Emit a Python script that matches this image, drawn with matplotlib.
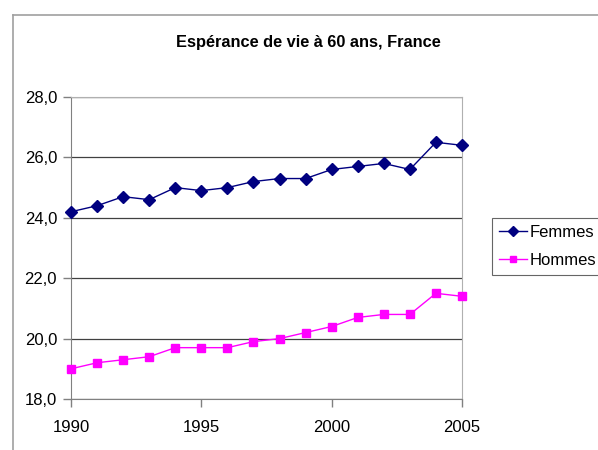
import matplotlib.pyplot as plt
from matplotlib.lines import Line2D

# Données
annees = list(range(1990, 2006))
femmes = [24.2, 24.4, 24.7, 24.6, 25.0, 24.9, 25.0, 25.2, 25.3, 25.3,
          25.6, 25.7, 25.8, 25.6, 26.5, 26.4]
hommes = [19.0, 19.2, 19.3, 19.4, 19.7, 19.7, 19.7, 19.9, 20.0, 20.2,
          20.4, 20.7, 20.8, 20.8, 21.5, 21.4]
yticks = [18, 20, 22, 24, 26, 28]
xticks = [1990, 1995, 2000, 2005]

plt.rcParams['font.family'] = ['Liberation Sans', 'DejaVu Sans']

fig = plt.figure(figsize=(5.98, 4.5), dpi=100)
ax = fig.add_axes([71 / 598, 51 / 450, 391 / 598, 302 / 450])

# Cadre du graphique
fig.add_artist(Line2D([13 / 598, 1], [1 - 15 / 450, 1 - 15 / 450],
                      transform=fig.transFigure, color='#a0a0a0', lw=1.2))
fig.add_artist(Line2D([13 / 598, 13 / 598], [0, 1 - 15 / 450],
                      transform=fig.transFigure, color='#a0a0a0', lw=1.2))

ax.plot(annees, femmes, color='#000080', marker='D', markersize=6,
        lw=1, label='Femmes', clip_on=False, zorder=3)
ax.plot(annees, hommes, color='#ff00ff', marker='s', markersize=5.5,
        lw=1, label='Hommes', clip_on=False, zorder=3)

ax.set_xlim(1990, 2005)
ax.set_ylim(18, 28)
ax.set_xticks(xticks)
ax.set_yticks(yticks)
ax.set_yticklabels([f"{v:.1f}".replace('.', ',') for v in yticks])
ax.tick_params(labelsize=12, length=6, width=1, color='#808080', pad=4)
ax.tick_params(axis='x', pad=9)

ax.grid(axis='y', color='#404040', lw=0.9)
ax.set_axisbelow(True)
for s in ['left', 'bottom']:
    ax.spines[s].set_color('#808080')
for s in ['top', 'right']:
    ax.spines[s].set_color('#b0b0b0')

fig.text(0.5 * (13 + 598) / 598 + 0.005, 1 - 43 / 450,
         "Espérance de vie à 60 ans, France", ha='center', va='center',
         fontsize=11.8, fontweight='bold')

leg = fig.legend(loc='upper left', bbox_to_anchor=(492 / 598, 1 - 218 / 450),
                 fontsize=12, frameon=True, fancybox=False, handlelength=1.7,
                 handletextpad=0.15, borderpad=0.4, labelspacing=0.8,
                 borderaxespad=0)
leg.get_frame().set_edgecolor('#404040')
leg.get_frame().set_linewidth(0.8)
for h in leg.legend_handles:
    h.set_markersize(5)

plt.savefig('out.png', dpi=100)
